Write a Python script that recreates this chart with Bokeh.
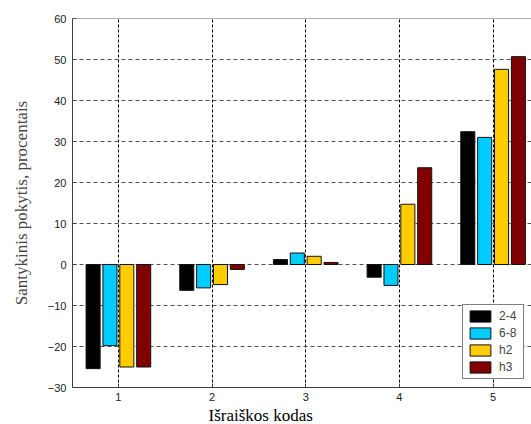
from bokeh.plotting import figure
from bokeh.models import ColumnDataSource, Legend, LegendItem, Span, Title, FixedTicker
from bokeh.transform import dodge
from bokeh.embed import file_html
from bokeh.resources import INLINE

codes = [1, 2, 3, 4, 5]
series_names = ["2-4", "6-8", "h2", "h3"]
v_24 = [-25.4, -6.3, 1.2, -3.1, 32.4]
v_68 = [-19.8, -5.7, 2.8, -5.1, 31.0]
v_h2 = [-25.0, -4.9, 2.0, 14.7, 47.6]
v_h3 = [-25.0, -1.2, 0.5, 23.6, 50.7]
colors = ["#000000", "#00CCFF", "#FFCC00", "#800000"]
offsets = [-0.27, -0.09, 0.09, 0.27]
y_ticks = [-30, -20, -10, 0, 10, 20, 30, 40, 50, 60]

src = ColumnDataSource(dict(x=codes, s0=v_24, s1=v_68, s2=v_h2, s3=v_h3))

p = figure(width=531, height=424, output_backend="svg", toolbar_location=None,
           x_range=(0.51, 5.41), y_range=(-30, 60),
           min_border_left=72, min_border_top=18, min_border_right=0, min_border_bottom=37)
p.outline_line_color = None
p.background_fill_color = "white"

renderers = []
for i, col in enumerate(["s0", "s1", "s2", "s3"]):
    r = p.vbar(x=dodge("x", offsets[i]), top=col, bottom=0, width=0.15, source=src,
               fill_color=colors[i], line_color="#111111", line_width=1)
    renderers.append(r)

# grid
p.xgrid.grid_line_color = "#000000"
p.xgrid.grid_line_dash = "3 2"
p.xgrid.grid_line_width = 1
p.ygrid.grid_line_color = "#505050"
p.ygrid.grid_line_dash = "4 3"
p.ygrid.grid_line_width = 1

p.xaxis.ticker = FixedTicker(ticks=codes)
p.yaxis.ticker = FixedTicker(ticks=y_ticks)
for ax in (p.xaxis[0], p.yaxis[0]):
    ax.major_tick_in = 4
    ax.major_tick_out = 0
    ax.minor_tick_line_color = None
    ax.axis_line_color = "#404040"
    ax.major_tick_line_color = "#404040"
    ax.major_label_text_font = "Liberation Sans"
    ax.major_label_text_font_size = "11px"
    ax.major_label_text_color = "#202020"
p.yaxis.major_label_standoff = 6
p.xaxis.major_label_standoff = 5

p.yaxis.axis_label = "Santykinis pokytis, procentais"
p.yaxis.axis_label_text_font = "Liberation Serif"
p.yaxis.axis_label_text_font_style = "normal"
p.yaxis.axis_label_text_font_size = "17px"
p.yaxis.axis_label_standoff = 14

top_line = Span(location=60, dimension="width", line_color="#606060", line_width=1)
p.add_layout(top_line)

xlab = Title(text="Išraiškos kodas", align="left", offset=136,
             text_font="Liberation Serif", text_font_size="17px",
             text_font_style="normal", text_color="#000000", standoff=0)
p.add_layout(xlab, "below")

legend = Legend(items=[LegendItem(label=series_names[i], renderers=[renderers[i]]) for i in range(4)],
                location=(390, 8), orientation="vertical",
                glyph_width=26, glyph_height=14, label_height=14, spacing=3,
                padding=4, label_standoff=6, margin=0,
                label_text_font="Liberation Sans", label_text_font_size="12px",
                border_line_color="#000000", border_line_width=1,
                background_fill_alpha=1.0)
p.add_layout(legend)

open("out.html", "w").write(file_html(p, INLINE))
